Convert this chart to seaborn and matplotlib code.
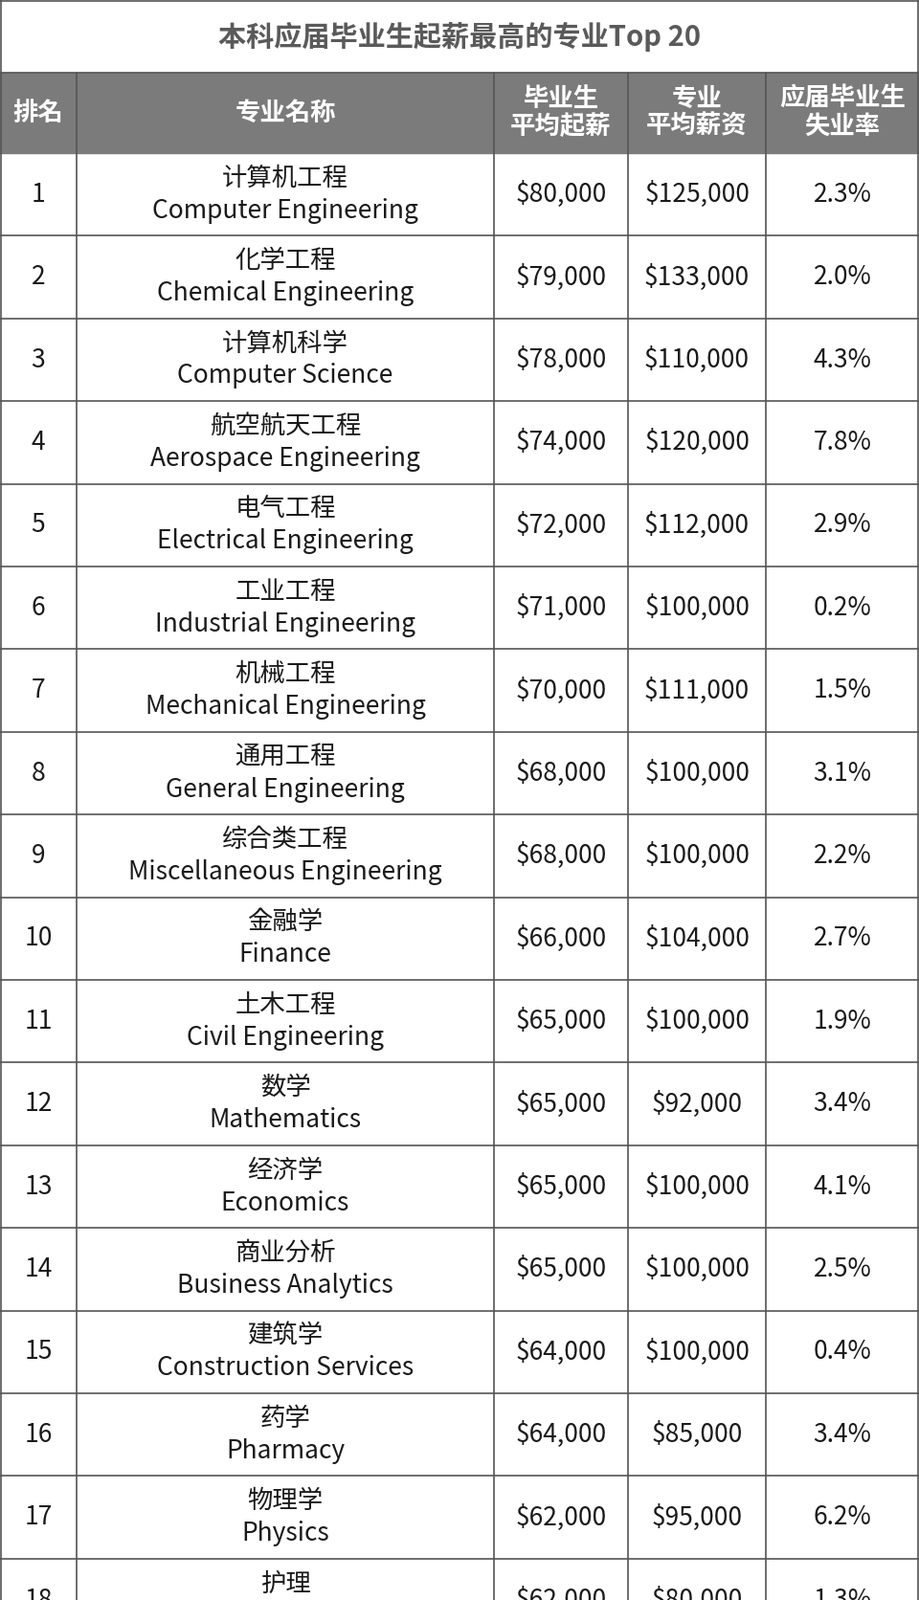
import seaborn as sns
import matplotlib.pyplot as plt

sns.set_theme(style="white")
plt.rcParams["font.family"] = ["Noto Sans CJK SC", "Noto Sans CJK JP", "Noto Sans CJK TC",
                               "Noto Sans CJK KR", "DejaVu Sans"]

title = "本科应届毕业生起薪最高的专业Top 20"
headers = ["排名", "专业名称", "毕业生\n平均起薪", "专业\n平均薪资", "应届毕业生\n失业率"]
ranks = list(range(1, 19))
names_cn = ["计算机工程", "化学工程", "计算机科学", "航空航天工程", "电气工程", "工业工程",
            "机械工程", "通用工程", "综合类工程", "金融学", "土木工程", "数学", "经济学",
            "商业分析", "建筑学", "药学", "物理学", "护理"]
names_en = ["Computer Engineering", "Chemical Engineering", "Computer Science",
            "Aerospace Engineering", "Electrical Engineering", "Industrial Engineering",
            "Mechanical Engineering", "General Engineering", "Miscellaneous Engineering",
            "Finance", "Civil Engineering", "Mathematics", "Economics", "Business Analytics",
            "Construction Services", "Pharmacy", "Physics", "Nursing"]
start_salary = [80000, 79000, 78000, 74000, 72000, 71000, 70000, 68000, 68000, 66000,
                65000, 65000, 65000, 65000, 64000, 64000, 62000, 62000]
avg_salary = [125000, 133000, 110000, 120000, 112000, 100000, 111000, 100000, 100000, 104000,
              100000, 92000, 100000, 100000, 100000, 85000, 95000, 80000]
unemployment = [2.3, 2.0, 4.3, 7.8, 2.9, 0.2, 1.5, 3.1, 2.2, 2.7, 1.9, 3.4, 4.1, 2.5, 0.4,
                3.4, 6.2, 1.3]

W, H = 960, 1672
col_x = [0, 80, 516, 656, 800, 960]
title_h, head_bot, row_h = 76, 160, 86.4

fig = plt.figure(figsize=(9.6, 16.72), dpi=100)
ax = fig.add_axes([0, 0, 1, 1])
ax.set_xlim(0, W)
ax.set_ylim(H, 0)
ax.axis("off")

line = dict(color="#555555", lw=1.2)
ax.text(W / 2, title_h / 2, title, ha="center", va="center", fontsize=21,
        fontweight="bold", color="#5a5a5a")
ax.fill_between([0, W], title_h, head_bot, color="#7b7b7b")
for i, h in enumerate(headers):
    cx = (col_x[i] + col_x[i + 1]) / 2
    ax.text(cx, (title_h + head_bot) / 2, h, ha="center", va="center", fontsize=19,
            fontweight="bold", color="white", linespacing=1.1)

for r in range(len(ranks)):
    top = head_bot + r * row_h
    cy = top + row_h / 2
    c = lambda i: (col_x[i] + col_x[i + 1]) / 2
    kw = dict(ha="center", va="center", fontsize=19, color="#1a1a1a")
    ax.text(c(0), cy, str(ranks[r]), **kw)
    ax.text(c(1), cy - 17, names_cn[r], **kw)
    ax.text(c(1), cy + 17, names_en[r], **kw)
    ax.text(c(2), cy, f"${start_salary[r]:,}", **kw)
    ax.text(c(3), cy, f"${avg_salary[r]:,}", **kw)
    ax.text(c(4), cy, f"{unemployment[r]:.1f}%", **kw)
    ax.plot([0, W], [top + row_h, top + row_h], **line)

# grid lines
ax.plot([0, W], [1, 1], **line)
ax.plot([0, W], [title_h, title_h], **line)
ax.plot([1, 1], [0, H], **line)
ax.plot([W - 1, W - 1], [0, H], **line)
for x in col_x[1:-1]:
    ax.plot([x, x], [title_h, H], **line)

fig.savefig("out.png", dpi=100)
